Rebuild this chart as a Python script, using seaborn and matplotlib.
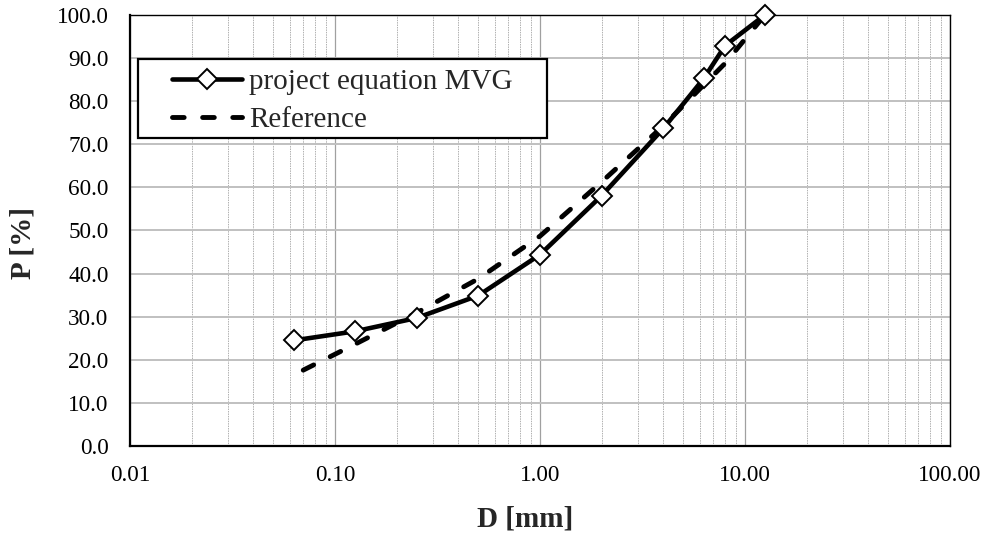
import matplotlib
matplotlib.use("Agg")
import matplotlib.pyplot as plt
from matplotlib.patches import Rectangle
from matplotlib.ticker import FixedLocator, FixedFormatter, LogLocator, NullFormatter
import seaborn as sns
import pandas as pd

# Grading curve computed from the project equation (MVG)
project_d = [0.063, 0.125, 0.25, 0.5, 1.0, 2.0, 4.0, 6.3, 8.0, 12.5]
project_p = [24.5, 26.6, 29.7, 34.9, 44.4, 58.1, 73.7, 85.3, 92.9, 100.0]

# Reference grading curve
ref_d = [0.07, 0.125, 0.25, 0.5, 1.0, 2.0, 4.0, 8.0, 12.5]
ref_p = [17.6, 23.6, 30.9, 38.8, 48.7, 61.3, 74.3, 88.8, 100.0]

x_ticks = [0.01, 0.1, 1.0, 10.0, 100.0]
x_tick_labels = ["0.01", "0.10", "1.00", "10.00", "100.00"]
y_ticks = [0, 10, 20, 30, 40, 50, 60, 70, 80, 90, 100]
y_tick_labels = [f"{v:.1f}" for v in y_ticks]

sns.set_theme(style="white")
plt.rcParams["font.family"] = ["Liberation Serif", "DejaVu Serif"]

df_project = pd.DataFrame({"D": project_d, "P": project_p})
df_ref = pd.DataFrame({"D": ref_d, "P": ref_p})

fig = plt.figure(figsize=(9.84, 5.35), dpi=100)
ax = fig.add_axes([130 / 984, 1 - 446 / 535, 820 / 984, 431 / 535])

sns.lineplot(data=df_project, x="D", y="P", ax=ax, color="black", linewidth=3.3,
             marker="D", markersize=10, markerfacecolor="white",
             markeredgecolor="black", markeredgewidth=1.4,
             label="project equation MVG", zorder=4, sort=False, clip_on=False)
sns.lineplot(data=df_ref, x="D", y="P", ax=ax, color="black", linewidth=3.5,
             label="Reference", zorder=3, sort=False, clip_on=False)
ref_line = ax.get_lines()[-1]
ref_line.set_dashes((2.4, 3.8))
ref_line.set_dash_capstyle("round")

ax.set_xscale("log")
ax.set_xlim(0.01, 100)
ax.set_ylim(0, 100)

ax.xaxis.set_major_locator(FixedLocator(x_ticks))
ax.xaxis.set_major_formatter(FixedFormatter(x_tick_labels))
ax.xaxis.set_minor_locator(LogLocator(base=10, subs=range(2, 10)))
ax.xaxis.set_minor_formatter(NullFormatter())
ax.yaxis.set_major_locator(FixedLocator(y_ticks))
ax.yaxis.set_major_formatter(FixedFormatter(y_tick_labels))

ax.grid(True, which="major", axis="y", color="#c0c0c0", linewidth=1.4, linestyle="-")
ax.grid(True, which="major", axis="x", color="#a0a0a0", linewidth=0.9, linestyle="-")
ax.grid(True, which="minor", axis="x", color="#b0b0b0", linewidth=0.7, linestyle=(0, (1.5, 1.0)))
ax.set_axisbelow(True)

for side in ["left", "bottom"]:
    ax.spines[side].set_color("black")
    ax.spines[side].set_linewidth(1.6)
for side in ["top", "right"]:
    ax.spines[side].set_color("black")
    ax.spines[side].set_linewidth(1.0)
    ax.spines[side].set_visible(True)

ax.tick_params(axis="both", which="major", direction="out", length=4.5, width=1.0,
               color="black", labelsize=16.7, labelcolor="black")
ax.tick_params(axis="x", which="major", pad=9.5)
ax.tick_params(axis="y", which="major", pad=11)
ax.tick_params(axis="x", which="minor", length=0)

ax.set_xlabel("D [mm]", fontsize=21, fontweight="bold", labelpad=14, x=0.4817)
ax.set_ylabel("P [%]", fontsize=21, fontweight="bold", labelpad=14.5, y=0.471)

# Legend box drawn as a plain rectangle, entries placed inside it
ax.add_patch(Rectangle((8 / 820, (446 - 138) / 431), 409 / 820, 79 / 431,
                       transform=ax.transAxes, facecolor="white", edgecolor="black",
                       linewidth=1.6, zorder=5))
leg = ax.legend(loc="center left", bbox_to_anchor=((172 - 130) / 820, (446 - 101) / 431),
                borderaxespad=0, borderpad=0, fontsize=21, frameon=False,
                handlelength=2.4, handletextpad=0.25, labelspacing=0.4)
leg.set_zorder(6)

fig.savefig("out.png", dpi=100)
